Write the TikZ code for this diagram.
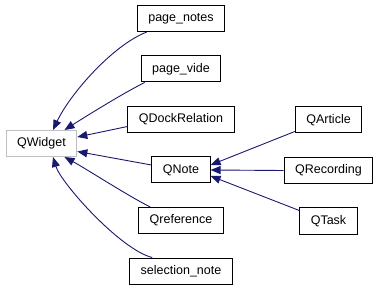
\documentclass[tikz,border=0pt]{standalone}
\usepackage{fontspec}
\setmainfont{Liberation Sans}
\usepackage{tikz}
\usetikzlibrary{arrows.meta, positioning}

\definecolor{edgeblue}{HTML}{191970}

\begin{document}
\begin{tikzpicture}[
      x=1pt, y=-1pt,
      % Define compact styles
      cls/.style={rectangle, draw=black, line width=1pt, fill=white, minimum height=26pt, inner xsep=11pt, inner ysep=2pt, font=\fontsize{12.5}{15}\selectfont},
      base/.style={cls, draw=black!25},
      edge/.style={draw=edgeblue, line width=0.9pt, -{Triangle[length=10pt, width=8pt]}, color=edgeblue}
    ]
    \useasboundingbox (0,0) rectangle (380,291);

    % Base class
    \node[base] (qwidget) at (41.5,143.5) {QWidget};

    % Middle column - direct subclasses
    \node[cls] (pagenotes) at (181,18.5) {page\_notes};
    \node[cls, below=23.5pt of pagenotes] (pagevide) {page\_vide};
    \node[cls, below=23.5pt of pagevide] (dockrel) {QDockRelation};
    \node[cls, below=23.5pt of dockrel] (qnote) {QNote};
    \node[cls, below=23.5pt of qnote] (qref) {Qreference};
    \node[cls, below=23.5pt of qref] (selnote) {selection\_note};

    % Right column - subclasses of QNote
    \node[cls] (qrec) at (328.5,170.5) {QRecording};
    \node[cls, above=23.5pt of qrec] (qarticle) {QArticle};
    \node[cls, below=23.5pt of qrec] (qtask) {QTask};

    % Arrows to QWidget
    \draw[edge] ([xshift=10pt]pagenotes.south west) .. controls +(-34,13) and +(17,-36) .. ([xshift=11.5pt]qwidget.north);
    \draw[edge] ([xshift=4pt]pagevide.south west) .. controls +(-22,11) and +(22,-14) .. ([xshift=23pt]qwidget.north);
    \draw[edge] ([yshift=-7pt]dockrel.west) -- ([yshift=6.5pt]qwidget.east);
    \draw[edge] ([yshift=5pt]qnote.west) -- ([yshift=-8pt]qwidget.east);
    \draw[edge] ([xshift=12pt]qref.north west) .. controls +(-22,-11) and +(22,12) .. ([xshift=23pt]qwidget.south);
    \draw[edge] ([xshift=23pt]selnote.north west) .. controls +(-32,-8) and +(8,26) .. ([xshift=11.5pt]qwidget.south);

    % Arrows to QNote
    \draw[edge] ([yshift=2pt]qarticle.south west) -- ([yshift=5pt]qnote.east);
    \draw[edge] (qrec.west) -- (qnote.east);
    \draw[edge] ([yshift=-3pt]qtask.north west) -- ([yshift=-6pt]qnote.east);

  \end{tikzpicture}
\end{document}
